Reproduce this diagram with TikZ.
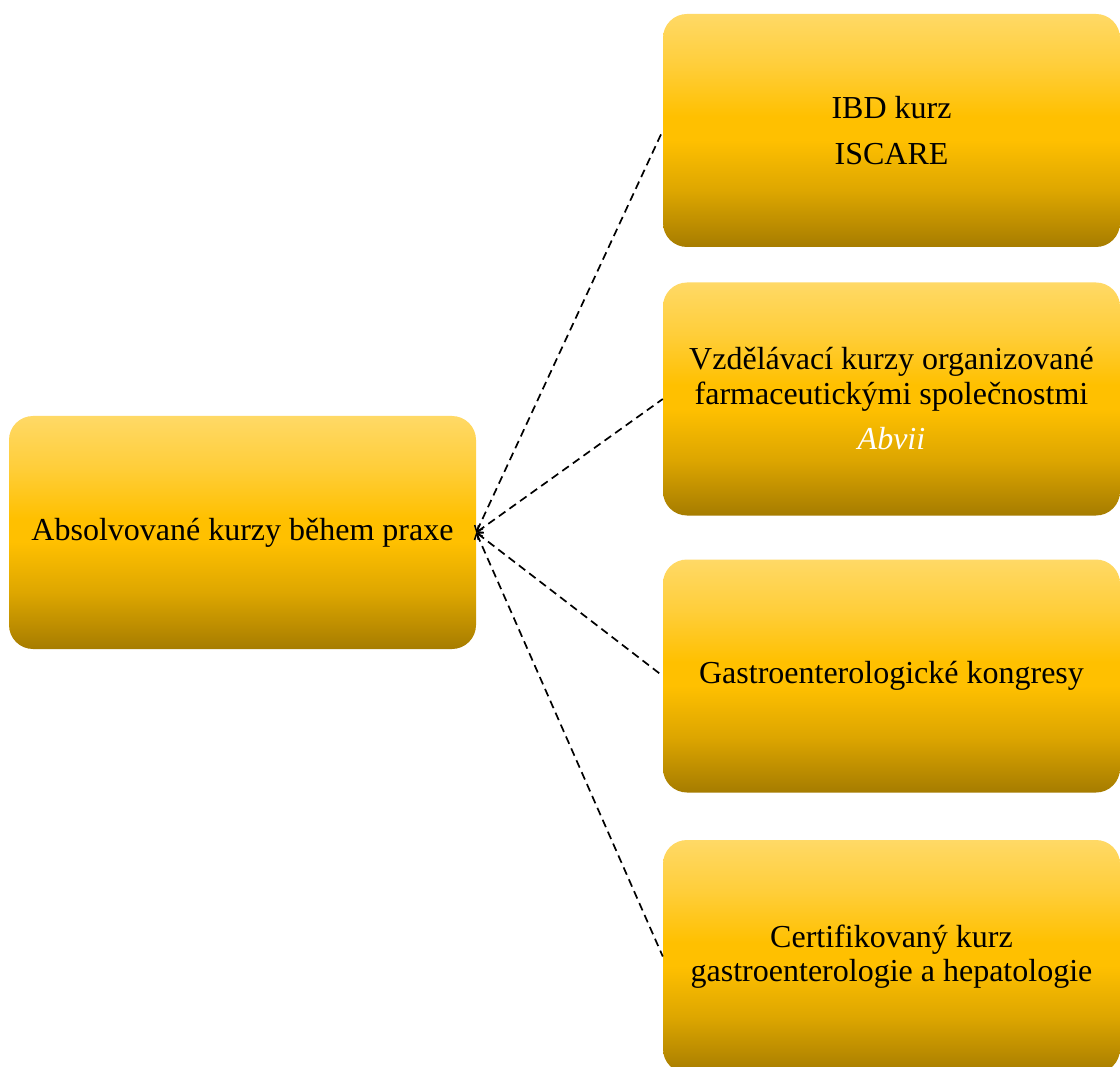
\documentclass[tikz,border=0pt]{standalone}
\usepackage{fontspec}
\setmainfont{Liberation Serif}
\usetikzlibrary{arrows.meta}
\definecolor{boxtop}{HTML}{FFD966}
\definecolor{boxupper}{HTML}{FFCE3A}
\definecolor{boxmid}{HTML}{FFC000}
\definecolor{boxlow}{HTML}{DDA600}
\definecolor{boxbot}{HTML}{A67C00}
% vertical gold gradient: the path spans 25bp (bottom) to 75bp (top)
\pgfdeclareverticalshading{goldgrad}{100bp}{%
  color(0bp)=(boxbot); color(25bp)=(boxbot); color(37bp)=(boxlow);
  color(48bp)=(boxmid); color(53bp)=(boxmid); color(64bp)=(boxupper);
  color(75bp)=(boxtop); color(100bp)=(boxtop)}
\tikzset{
  goldbox/.style={rectangle, rounded corners=24pt, shading=goldgrad,
    draw=none, minimum width=457pt, minimum height=233pt, inner sep=0pt,
    align=center, text=black, font=\fontsize{32}{34.5}\selectfont},
  link/.style={line width=1.7pt, dash pattern=on 8pt off 5pt,
    {Straight Barb[length=5pt,width=9pt,line width=1.5pt]}-}
}
\begin{document}
\begin{tikzpicture}[x=1pt,y=-1pt]
  \clip (0,0) rectangle (1120,1067);
  \fill[white] (0,0) rectangle (1120,1067);

  \node[goldbox, minimum width=467pt] (root) at (242.5,532.5)
    {Absolvované kurzy během praxe};

  \node[goldbox] (c1) at (891.5,130.5) {IBD kurz\\[11pt]ISCARE};
  \node[goldbox] (c2) at (891.5,399)
    {Vzdělávací kurzy organizované\\farmaceutickými společnostmi\\[11pt]%
     \textcolor{white}{\itshape Abvii}};
  \node[goldbox] (c3) at (891.5,676) {Gastroenterologické kongresy};
  \node[goldbox] (c4) at (891.5,956.5)
    {Certifikovaný kurz\\gastroenterologie a hepatologie};

  \foreach \c in {c1,c2,c3,c4}
    \draw[link] (root.east) -- (\c.west);
\end{tikzpicture}
\end{document}
